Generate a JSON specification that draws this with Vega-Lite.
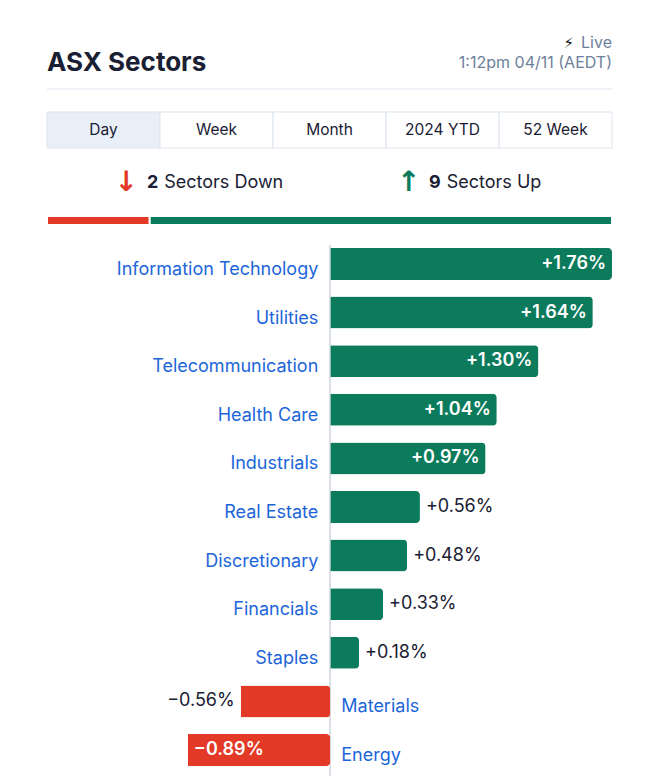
{
  "$schema": "https://vega.github.io/schema/vega-lite/v6.json",
  "padding": {"left": 46, "right": 55, "top": 0, "bottom": 0},
  "spacing": 18,
  "config": {"view": {"stroke": null}, "font": "Inter"},
  "data": {"values": [
    {"panel": "header", "name": "ASX Sectors", "status": "Live", "updated": "1:12pm 04/11 (AEDT)"},
    {"panel": "tab", "tab": "Day", "active": "yes"},
    {"panel": "tab", "tab": "Week", "active": "no"},
    {"panel": "tab", "tab": "Month", "active": "no"},
    {"panel": "tab", "tab": "2024 YTD", "active": "no"},
    {"panel": "tab", "tab": "52 Week", "active": "no"},
    {"panel": "count", "direction": "Down", "count": 2, "label": "Sectors Down", "arrow": "↓"},
    {"panel": "count", "direction": "Up", "count": 9, "label": "Sectors Up", "arrow": "↑"},
    {"panel": "sector", "sector": "Information Technology", "change": 0.0176},
    {"panel": "sector", "sector": "Utilities", "change": 0.0164},
    {"panel": "sector", "sector": "Telecommunication", "change": 0.0130},
    {"panel": "sector", "sector": "Health Care", "change": 0.0104},
    {"panel": "sector", "sector": "Industrials", "change": 0.0097},
    {"panel": "sector", "sector": "Real Estate", "change": 0.0056},
    {"panel": "sector", "sector": "Discretionary", "change": 0.0048},
    {"panel": "sector", "sector": "Financials", "change": 0.0033},
    {"panel": "sector", "sector": "Staples", "change": 0.0018},
    {"panel": "sector", "sector": "Materials", "change": -0.0056},
    {"panel": "sector", "sector": "Energy", "change": -0.0089}
  ]},
  "vconcat": [
    {
      "width": 565,
      "height": 93,
      "transform": [{"filter": "datum.panel === 'header'"}],
      "layer": [
        {
          "mark": {"type": "text", "align": "left", "baseline": "alphabetic", "fontSize": 26, "fontWeight": "bold", "color": "#1a2033", "dy": 24.5},
          "encoding": {
            "x": {"datum": 0, "type": "quantitative", "scale": {"domain": [0, 1]}, "axis": null},
            "text": {"field": "name", "type": "nominal"}
          }
        },
        {
          "mark": {"type": "text", "align": "right", "baseline": "alphabetic", "fontSize": 16, "color": "#6e819b", "dy": 1.5},
          "encoding": {
            "x": {"datum": 1, "type": "quantitative"},
            "text": {"field": "status", "type": "nominal"}
          }
        },
        {
          "mark": {"type": "text", "align": "right", "baseline": "alphabetic", "fontSize": 15, "font": "DejaVu Sans", "color": "#111111", "dy": 1.5, "dx": -38},
          "encoding": {
            "x": {"datum": 1, "type": "quantitative"},
            "text": {"value": "⚡"}
          }
        },
        {
          "mark": {"type": "text", "align": "right", "baseline": "alphabetic", "fontSize": 16, "color": "#6e819b", "dy": 21.5},
          "encoding": {
            "x": {"datum": 1, "type": "quantitative"},
            "text": {"field": "updated", "type": "nominal"}
          }
        },
        {
          "mark": {"type": "rule", "color": "#dde6ef", "strokeWidth": 1},
          "encoding": {
            "x": {"datum": 0, "type": "quantitative"},
            "x2": {"datum": 1},
            "y": {"value": 89}
          }
        }
      ]
    },
    {
      "width": 565,
      "height": 36,
      "transform": [{"filter": "datum.panel === 'tab'"}],
      "encoding": {
        "x": {"field": "tab", "type": "nominal", "axis": null, "scale": {"domain": ["Day", "Week", "Month", "2024 YTD", "52 Week"], "paddingInner": 0, "paddingOuter": 0}}
      },
      "layer": [
        {
          "mark": {"type": "bar", "stroke": "#dde5ee", "strokeWidth": 1},
          "encoding": {
            "color": {"field": "active", "type": "nominal", "legend": null, "scale": {"domain": ["yes", "no"], "range": ["#e8eff8", "#ffffff"]}}
          }
        },
        {
          "mark": {"type": "text", "fontSize": 15.5, "color": "#1a2033", "baseline": "middle"},
          "encoding": {"text": {"field": "tab", "type": "nominal"}}
        }
      ]
    },
    {
      "width": 565,
      "height": 20,
      "transform": [{"filter": "datum.panel === 'count'"}],
      "encoding": {
        "x": {"field": "direction", "type": "nominal", "axis": null, "scale": {"domain": ["Down", "Up"], "paddingInner": 0, "paddingOuter": 0}}
      },
      "layer": [
        {
          "mark": {"type": "text", "align": "center", "baseline": "middle", "fontSize": 28, "fontWeight": "bold", "font": "DejaVu Sans", "dx": -62, "dy": 6},
          "encoding": {
            "text": {"field": "arrow", "type": "nominal"},
            "color": {"field": "direction", "type": "nominal", "legend": null, "scale": {"domain": ["Down", "Up"], "range": ["#e23a26", "#0c7b5c"]}}
          }
        },
        {
          "mark": {"type": "text", "align": "right", "baseline": "middle", "fontSize": 18, "fontWeight": "bold", "color": "#1a2033", "dx": -30, "dy": 6},
          "encoding": {"text": {"field": "count", "type": "quantitative"}}
        },
        {
          "mark": {"type": "text", "align": "left", "baseline": "middle", "fontSize": 18, "color": "#1a2033", "dx": -24, "dy": 6},
          "encoding": {"text": {"field": "label", "type": "nominal"}}
        }
      ]
    },
    {
      "width": 565,
      "height": 9,
      "transform": [{"filter": "datum.panel === 'count'"}],
      "mark": {"type": "bar", "stroke": "#ffffff", "strokeWidth": 2},
      "encoding": {
        "y": {"field": "panel", "type": "nominal", "axis": null, "scale": {"paddingInner": 0, "paddingOuter": 0}},
        "x": {"field": "count", "type": "quantitative", "axis": null, "scale": {"domain": [0, 11], "nice": false}},
        "color": {"field": "direction", "type": "nominal", "legend": null, "scale": {"domain": ["Down", "Up"], "range": ["#e23a26", "#0c7b5c"]}},
        "order": {"field": "direction", "type": "nominal"}
      }
    },
    {
      "width": 565,
      "height": 538,
      "transform": [{"filter": "datum.panel === 'sector'"}],
      "layer": [
        {
          "mark": {"type": "rule", "color": "#d9dee5", "strokeWidth": 1},
          "encoding": {
            "x": {"datum": 0, "type": "quantitative", "axis": null, "scale": {"domain": [-0.0177, 0.0176], "nice": false, "zero": false}}
          }
        },
        {
          "mark": {"type": "rule", "color": "#e6ebf1", "strokeWidth": 2},
          "encoding": {
            "x": {"datum": -0.0177, "type": "quantitative"},
            "x2": {"datum": 0.0176},
            "y": {"value": 542}
          }
        },
        {
          "mark": {"type": "bar", "cornerRadiusEnd": 4},
          "encoding": {
            "y": {"field": "sector", "type": "nominal", "axis": null, "scale": {"domain": ["Information Technology", "Utilities", "Telecommunication", "Health Care", "Industrials", "Real Estate", "Discretionary", "Financials", "Staples", "Materials", "Energy"], "paddingInner": 0.342, "paddingOuter": 0.206, "align": 0.15}},
            "x": {"field": "change", "type": "quantitative"},
            "color": {"field": "change", "type": "quantitative", "legend": null, "scale": {"type": "threshold", "domain": [0], "range": ["#e23a26", "#0c7b5c"]}}
          }
        },
        {
          "transform": [{"filter": "datum.change > 0"}],
          "mark": {"type": "text", "align": "right", "baseline": "middle", "fontSize": 18, "color": "#1c66d9", "dx": -12, "dy": 6},
          "encoding": {
            "y": {"field": "sector", "type": "nominal"},
            "x": {"datum": 0, "type": "quantitative"},
            "text": {"field": "sector", "type": "nominal"}
          }
        },
        {
          "transform": [{"filter": "datum.change < 0"}],
          "mark": {"type": "text", "align": "left", "baseline": "middle", "fontSize": 18, "color": "#1c66d9", "dx": 11, "dy": 6},
          "encoding": {
            "y": {"field": "sector", "type": "nominal"},
            "x": {"datum": 0, "type": "quantitative"},
            "text": {"field": "sector", "type": "nominal"}
          }
        },
        {
          "transform": [{"filter": "datum.change >= 0.007"}],
          "mark": {"type": "text", "align": "right", "baseline": "middle", "fontSize": 18, "fontWeight": 600, "color": "#ffffff", "dx": -6},
          "encoding": {
            "y": {"field": "sector", "type": "nominal"},
            "x": {"field": "change", "type": "quantitative"},
            "text": {"field": "change", "type": "quantitative", "format": "+.2%"}
          }
        },
        {
          "transform": [{"filter": "datum.change > 0 && datum.change < 0.007"}],
          "mark": {"type": "text", "align": "left", "baseline": "middle", "fontSize": 18, "color": "#1a2033", "dx": 6},
          "encoding": {
            "y": {"field": "sector", "type": "nominal"},
            "x": {"field": "change", "type": "quantitative"},
            "text": {"field": "change", "type": "quantitative", "format": "+.2%"}
          }
        },
        {
          "transform": [{"filter": "datum.change <= -0.007"}],
          "mark": {"type": "text", "align": "left", "baseline": "middle", "fontSize": 18, "fontWeight": 600, "color": "#ffffff", "dx": 6},
          "encoding": {
            "y": {"field": "sector", "type": "nominal"},
            "x": {"field": "change", "type": "quantitative"},
            "text": {"field": "change", "type": "quantitative", "format": "+.2%"}
          }
        },
        {
          "transform": [{"filter": "datum.change < 0 && datum.change > -0.007"}],
          "mark": {"type": "text", "align": "right", "baseline": "middle", "fontSize": 18, "color": "#1a2033", "dx": -6},
          "encoding": {
            "y": {"field": "sector", "type": "nominal"},
            "x": {"field": "change", "type": "quantitative"},
            "text": {"field": "change", "type": "quantitative", "format": "+.2%"}
          }
        }
      ]
    }
  ]
}
